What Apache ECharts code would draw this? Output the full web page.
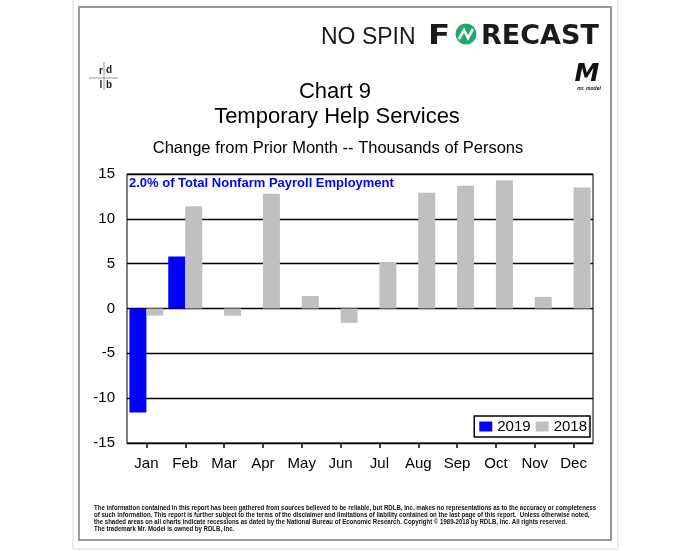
<!DOCTYPE html>
<html><head><meta charset="utf-8">
<script src="https://cdn.jsdelivr.net/npm/echarts@6/dist/echarts.min.js"></script>
<style>html,body{margin:0;padding:0;background:#fff}#c{width:691px;height:551px}</style>
</head><body><div id="c"></div>
<script>
const months = ['Jan','Feb','Mar','Apr','May','Jun','Jul','Aug','Sep','Oct','Nov','Dec'];
const s2019 = [-11.6, 5.8, null, null, null, null, null, null, null, null, null, null];
const s2018 = [-0.8, 11.4, -0.8, 12.8, 1.4, -1.6, 5.1, 12.9, 13.7, 14.3, 1.3, 13.5];
const yMin = -15, yMax = 15, yStep = 5;
const titleLines = ['Chart 9', 'Temporary Help Services'];
const subtitle = 'Change from Prior Month -- Thousands of Persons';
const note = '2.0% of Total Nonfarm Payroll Employment';
const footer = [
  'The information contained in this report has been gathered from sources believed to be reliable, but RDLB, Inc. makes no representations as to the accuracy or completeness',
  'of such information. This report is further subject to the terms of the disclaimer and limitations of liability contained on the last page of this report.  Unless otherwise noted,',
  'the shaded areas on all charts indicate recessions as dated by the National Bureau of Economic Research. Copyright \u00a9 1989-2018 by RDLB, Inc. All rights reserved.',
  'The trademark Mr. Model is owned by RDLB, Inc.'
];

const FF = '"Liberation Sans", Arial, sans-serif';
const footFamily = '"Liberation Sans Narrow", "Liberation Sans", Arial, sans-serif';
const mc = document.createElement('canvas').getContext('2d');
mc.font = 'bold 8px ' + footFamily;
const footScale = 502 / mc.measureText(footer[0]).width;

const graphics = [
  {type:'rect', shape:{x:73,y:-1,width:545,height:550}, style:{fill:'none',stroke:'#d8d8d8',lineWidth:1}, silent:true},
  {type:'rect', shape:{x:79,y:7,width:532,height:533}, style:{fill:'none',stroke:'#9a9a9a',lineWidth:2}, silent:true},
  // header
  {type:'text', x:321, y:38, style:{text:'NO SPIN', font:'normal 23px ' + FF, fill:'#1a1a1a', textVerticalAlign:'middle'}},
  {type:'text', x:428, y:37, scaleX:1.2, style:{text:'F', font:'bold 27px "DejaVu Sans", sans-serif', fill:'#1a1a1a', textVerticalAlign:'middle'}},
  {type:'circle', shape:{cx:466,cy:34,r:10.5}, style:{fill:'#1ea86b'}},
  {type:'polyline', shape:{points:[[459,39],[464,30],[468,38],[473,29]]}, style:{stroke:'#fff',lineWidth:2.6,fill:'none'}},
  {type:'text', x:481, y:37, style:{text:'RECAST', font:'bold 27px "DejaVu Sans", sans-serif', fill:'#1a1a1a', textVerticalAlign:'middle'}},
  // rdlb logo
  {type:'line', shape:{x1:104,y1:62,x2:104,y2:90}, style:{stroke:'#999',lineWidth:1}},
  {type:'line', shape:{x1:89,y1:78,x2:118,y2:78}, style:{stroke:'#999',lineWidth:1}},
  {type:'text', x:101, y:71, style:{text:'r', font:'bold 10px ' + FF, fill:'#222', textAlign:'center', textVerticalAlign:'middle'}},
  {type:'text', x:109, y:70, style:{text:'d', font:'bold 10px ' + FF, fill:'#222', textAlign:'center', textVerticalAlign:'middle'}},
  {type:'text', x:101, y:85, style:{text:'l', font:'bold 10px ' + FF, fill:'#222', textAlign:'center', textVerticalAlign:'middle'}},
  {type:'text', x:109, y:85, style:{text:'b', font:'bold 10px ' + FF, fill:'#222', textAlign:'center', textVerticalAlign:'middle'}},
  // Mr model logo
  {type:'text', x:587, y:74, style:{text:'M', font:'italic 900 25px "DejaVu Sans", sans-serif', fill:'#111', textAlign:'center', textVerticalAlign:'middle'}},
  {type:'text', x:589, y:89, style:{text:'mr. model', font:'italic bold 5px ' + FF, fill:'#111', textAlign:'center', textVerticalAlign:'middle'}},
  // titles
  {type:'text', x:335, y:92, style:{text:titleLines[0], font:'normal 22px ' + FF, fill:'#000', textAlign:'center', textVerticalAlign:'middle'}},
  {type:'text', x:337, y:117, style:{text:titleLines[1], font:'normal 22px ' + FF, fill:'#000', textAlign:'center', textVerticalAlign:'middle'}},
  {type:'text', x:338, y:148, style:{text:subtitle, font:'normal 16.5px ' + FF, fill:'#000', textAlign:'center', textVerticalAlign:'middle'}},
  // note
  {type:'text', x:129, y:183, z:100, style:{text:note, font:'bold 13px ' + FF, fill:'#0000ff', textVerticalAlign:'middle'}}
];
footer.forEach((t, i) => {
  graphics.push({type:'text', x:94, y:508 + i*7, scaleX:footScale, style:{text:t, font:'bold 8px ' + footFamily, fill:'#111', textVerticalAlign:'middle'}});
});

const chart = echarts.init(document.getElementById('c'));
chart.setOption({
  backgroundColor:'#fff',
  animation:false,
  textStyle:{fontFamily:FF},
  grid:{left:127, right:98, top:174, bottom:108, show:true, borderColor:'#000', borderWidth:1, backgroundColor:'transparent'},
  legend:{
    data:['2019','2018'], right:101, top:416, icon:'rect', itemWidth:13, itemHeight:10, itemGap:5,
    textStyle:{fontSize:15, color:'#000', fontFamily:FF},
    borderColor:'#000', borderWidth:1.5, padding:[3,3,3,5], backgroundColor:'#fff', z:20
  },
  xAxis:{
    type:'category', data:months, position:'bottom',
    axisLine:{show:true, onZero:false, lineStyle:{color:'#000', width:1}},
    axisTick:{show:true, alignWithLabel:true, length:5, lineStyle:{color:'#000', width:1.5}},
    axisLabel:{fontSize:15, color:'#000', margin:13, fontFamily:FF},
    splitLine:{show:false}
  },
  yAxis:{
    type:'value', min:yMin, max:yMax, interval:yStep,
    axisLine:{show:false}, axisTick:{show:false},
    axisLabel:{fontSize:15, color:'#000', margin:12, fontFamily:FF},
    splitLine:{show:true, lineStyle:{color:'#000', width:1.3}}
  },
  series:[
    {name:'2019', type:'bar', data:s2019, barWidth:17, barGap:'0%', itemStyle:{color:'#0000ff'}},
    {name:'2018', type:'bar', data:s2018, barWidth:17, barGap:'0%', itemStyle:{color:'#c0c0c0'}}
  ],
  graphic:graphics
});
</script></body></html>
